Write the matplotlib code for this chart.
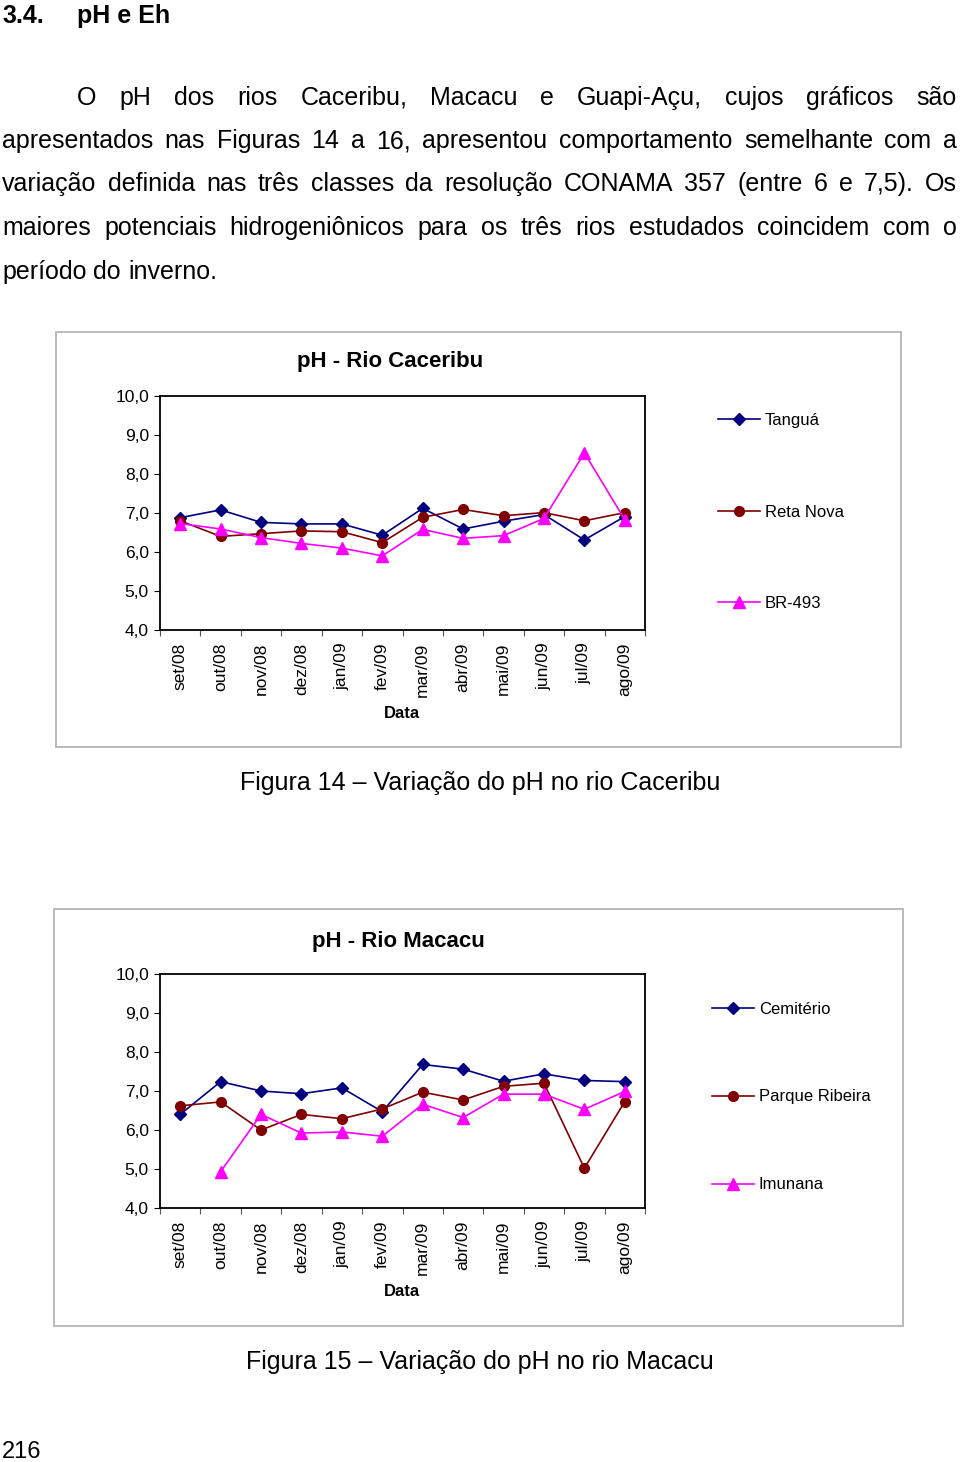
import numpy as np
import matplotlib
matplotlib.use("Agg")
import matplotlib.pyplot as plt
from matplotlib.patches import Rectangle
from matplotlib.ticker import FixedLocator, FuncFormatter

plt.rcParams['font.family'] = ['Liberation Sans', 'DejaVu Sans']

# ---------------- data ----------------
months = ['set/08', 'out/08', 'nov/08', 'dez/08', 'jan/09', 'fev/09',
          'mar/09', 'abr/09', 'mai/09', 'jun/09', 'jul/09', 'ago/09']
y_ticks = [4, 5, 6, 7, 8, 9, 10]

# Figura 14 - Rio Caceribu
caceribu_names = ['Tanguá', 'Reta Nova', 'BR-493']
tangua = [6.88, 7.08, 6.76, 6.72, 6.72, 6.43, 7.12, 6.59, 6.79, 6.96, 6.31, 6.91]
reta_nova = [6.80, 6.40, 6.47, 6.54, 6.52, 6.24, 6.89, 7.09, 6.93, 7.01, 6.80, 7.01]
br493 = [6.73, 6.59, 6.37, 6.22, 6.10, 5.90, 6.58, 6.35, 6.42, 6.86, 8.54, 6.83]

# Figura 15 - Rio Macacu
macacu_names = ['Cemitério', 'Parque Ribeira', 'Imunana']
cemiterio = [6.40, 7.24, 7.00, 6.93, 7.08, 6.47, 7.68, 7.56, 7.25, 7.44, 7.27, 7.24]
parque_ribeira = [6.62, 6.72, 6.00, 6.40, 6.29, 6.54, 6.97, 6.77, 7.12, 7.20, 5.02, 6.73]
imunana = [np.nan, 4.93, 6.40, 5.92, 5.95, 5.84, 6.66, 6.32, 6.92, 6.92, 6.53, 6.99]

heading_num = '3.4.'
heading_txt = 'pH e Eh'
paragraph_lines = [
    'O pH dos rios Caceribu, Macacu e Guapi-Açu, cujos gráficos são',
    'apresentados nas Figuras 14 a 16, apresentou comportamento semelhante com a',
    'variação definida nas três classes da resolução CONAMA 357 (entre 6 e 7,5). Os',
    'maiores potenciais hidrogeniônicos para os três rios estudados coincidem com o',
    'período do inverno.',
]
caption14 = 'Figura 14 – Variação do pH no rio Caceribu'
caption15 = 'Figura 15 – Variação do pH no rio Macacu'
page_number = '216'

# ---------------- figure ----------------
W, H = 960, 1462
fig = plt.figure(figsize=(W / 100, H / 100), dpi=100)
fig.patch.set_facecolor('white')


def fx(x):
    return x / W


def fy(y):
    return 1 - y / H


renderer = fig.canvas.get_renderer()

# heading
fig.text(fx(2), fy(23), heading_num, fontsize=18, fontweight='bold', va='baseline', ha='left')
fig.text(fx(77), fy(23), heading_txt, fontsize=18, fontweight='bold', va='baseline', ha='left')

# justified paragraph
line_base = [105, 148, 191, 235, 279]
para_fs = 18
right_edge = 957
for i, line in enumerate(paragraph_lines):
    x0 = 77 if i == 0 else 2
    words = line.split(' ')
    texts = [fig.text(0, fy(line_base[i]), w, fontsize=para_fs, va='baseline', ha='left') for w in words]
    widths = [t.get_window_extent(renderer).width for t in texts]
    if i < len(paragraph_lines) - 1 and len(words) > 1:
        gap = (right_edge - x0 - sum(widths)) / (len(words) - 1)
    else:
        sp = fig.text(0, 0, 'a a', fontsize=para_fs)
        sa = fig.text(0, 0, 'aa', fontsize=para_fs)
        gap = sp.get_window_extent(renderer).width - sa.get_window_extent(renderer).width
        sp.remove()
        sa.remove()
    x = x0
    for t, w in zip(texts, widths):
        t.set_x(fx(x))
        x += w + gap

colors = ['#000080', '#800000', '#FF00FF']
markers = ['D', 'o', '^']
msizes = [6.5, 7, 8]


def make_chart(box, ax_px, title, title_x, title_y, series, names, data_y, legend_x, legend_mid, spacing_px):
    bx0, by0, bx1, by1 = box
    fig.patches.append(Rectangle((fx(bx0), fy(by1)), (bx1 - bx0) / W, (by1 - by0) / H,
                                 transform=fig.transFigure, fill=False,
                                 edgecolor='#b4b4b4', linewidth=1.3, zorder=0))
    l, t, r, b = ax_px
    ax = fig.add_axes([fx(l), fy(b), (r - l) / W, (b - t) / H])
    x = np.arange(len(months))
    handles = []
    for s, c, m, ms, n in zip(series, colors, markers, msizes, names):
        h, = ax.plot(x, s, color=c, marker=m, markersize=ms, linewidth=1.2,
                     markeredgecolor=c, markerfacecolor=c, label=n)
        handles.append(h)
    ax.set_xlim(-0.5, len(months) - 0.5)
    ax.set_ylim(4, 10)
    ax.yaxis.set_major_locator(FixedLocator(y_ticks))
    ax.yaxis.set_major_formatter(FuncFormatter(lambda v, p: f'{v:.1f}'.replace('.', ',')))
    ax.set_xticks(x)
    ax.set_xticklabels(months, rotation=90, fontsize=12.5)
    ax.xaxis.set_minor_locator(FixedLocator(np.arange(-0.5, len(months), 1.0)))
    ax.tick_params(axis='x', which='major', length=0, pad=9)
    ax.tick_params(axis='x', which='minor', length=4, width=0.8, direction='out', color='#555555')
    ax.tick_params(axis='y', which='major', length=4, width=0.8, direction='out', pad=4,
                   labelsize=12.5)
    for sp in ax.spines.values():
        sp.set_linewidth(1.3)
        sp.set_color('black')
    fig.text(fx(title_x), fy(title_y), title, fontsize=16, fontweight='bold', ha='center', va='center')
    fig.text(fx(402), fy(data_y), 'Data', fontsize=12, fontweight='bold', ha='center', va='center')
    fs = 12
    fpx = fs * 100 / 72
    leg = fig.legend(handles=handles, labels=names, loc='center left',
                     bbox_to_anchor=(fx(legend_x), fy(legend_mid)),
                     frameon=False, fontsize=fs, borderpad=0, borderaxespad=0,
                     handlelength=2.5, handletextpad=0.3, numpoints=1,
                     labelspacing=(spacing_px - fpx) / fpx)
    return ax


make_chart((56, 332, 901, 747), (160, 396, 645, 630), 'pH - Rio Caceribu', 390, 361,
           [tangua, reta_nova, br493], caceribu_names, 713, 718, 512, 93)
make_chart((54, 909, 903, 1326), (160, 974, 645, 1208), 'pH - Rio Macacu', 398, 942,
           [cemiterio, parque_ribeira, imunana], macacu_names, 1292, 712, 1097, 89.5)

fig.text(fx(480), fy(783), caption14, fontsize=18, ha='center', va='center')
fig.text(fx(480), fy(1362), caption15, fontsize=18, ha='center', va='center')
fig.text(fx(2), fy(1458), page_number, fontsize=17, ha='left', va='baseline')

fig.savefig('out.png', dpi=100, facecolor='white')
